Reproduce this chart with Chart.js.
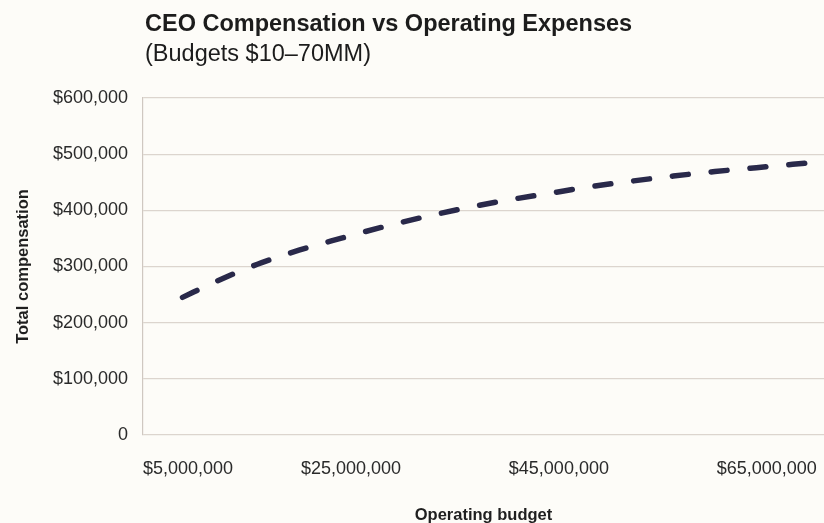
<!DOCTYPE html>
<html>
<head>
<meta charset="utf-8">
<script src="https://cdn.jsdelivr.net/npm/chart.js@4.4.1/dist/chart.umd.min.js"></script>
<style>
  html,body{margin:0;padding:0;background:#fdfcf8;}
  #wrap{position:relative;width:824px;height:523px;}
  .ttl{position:absolute;left:145px;font-family:"Liberation Sans",Arial,sans-serif;font-size:23.5px;line-height:23px;color:#1c1c1c;white-space:nowrap;}
  #t1{top:12px;font-weight:bold;}
  #t2{top:42px;}
  canvas{position:absolute;left:0;top:0;}
</style>
</head>
<body>
<div id="wrap">
  <canvas id="c" width="824" height="523"></canvas>
  <div class="ttl" id="t1">CEO Compensation vs Operating Expenses</div>
  <div class="ttl" id="t2">(Budgets $10–70MM)</div>
</div>
<script>
// operating budget ($)
const BUDGET = [8.8e6, 12e6, 16e6, 20e6, 24e6, 28e6, 32e6, 36e6, 40e6, 44e6, 48e6, 52e6, 56e6, 60e6, 64e6, 68.7e6];
// total compensation ($)
const COMP = [245000, 273000, 304000, 329000, 350000, 370000, 388000, 404000, 418000, 430000, 442000, 452000, 461000, 469000, 476000, 484000];
const X_TICKS = [5e6, 25e6, 45e6, 65e6];
const X_MIN = 5e6, X_MAX = 70.5e6;
const Y_MAX = 600000, Y_STEP = 100000;

const FONT = "'Liberation Sans', Arial, sans-serif";
const GRID = "#dcd5ce";

const money = v => "$" + Math.round(v).toLocaleString("en-US");

new Chart(document.getElementById("c"), {
  type: "line",
  data: {
    datasets: [{
      data: BUDGET.map((x, i) => ({x, y: COMP[i]})),
      borderColor: "#29294a",
      borderWidth: 5.5,
      borderDash: [16, 23],
      borderCapStyle: "round",
      pointRadius: 0,
      fill: false,
      cubicInterpolationMode: "monotone"
    }]
  },
  options: {
    responsive: false,
    animation: false,
    layout: {padding: {top: 98, right: 0, left: 0, bottom: 0}},
    plugins: {legend: {display: false}, tooltip: {enabled: false}},
    scales: {
      x: {
        type: "linear",
        min: X_MIN, max: X_MAX,
        afterBuildTicks: s => { s.ticks = X_TICKS.concat([X_MAX]).map(v => ({value: v})); },
        afterFit: s => { s.height = 88; s.paddingLeft = 0; s.paddingRight = 0; },
        grid: {display: false, drawTicks: false},
        border: {display: false},
        ticks: {
          align: "inner",
          padding: 23,
          maxRotation: 0,
          autoSkip: false,
          color: "#2a2a2a",
          font: {family: FONT, size: 18},
          callback: v => X_TICKS.includes(v) ? money(v) : ""
        },
        title: {
          display: true, text: "Operating budget",
          color: "#1f1f1f",
          font: {family: FONT, size: 16.5, weight: "bold"},
          padding: {top: 0, bottom: -2}
        }
      },
      y: {
        min: 0, max: Y_MAX,
        ticks: {
          stepSize: Y_STEP,
          padding: 15,
          color: "#2a2a2a",
          font: {family: FONT, size: 18},
          callback: v => v === 0 ? "0" : money(v)
        },
        afterFit: s => { s.width = 143; },
        grid: {color: GRID, lineWidth: 1.2, drawTicks: false},
        border: {display: true, color: "#cfc8c1", width: 1.2},
        title: {
          display: true, text: "Total compensation",
          color: "#1f1f1f",
          font: {family: FONT, size: 16.5, weight: "bold"},
          padding: {top: 14, bottom: 0}
        }
      }
    }
  }
});
</script>
</body>
</html>
